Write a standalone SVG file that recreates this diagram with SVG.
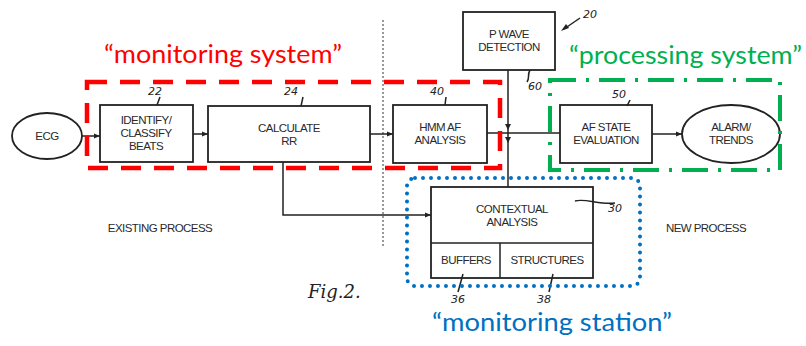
<svg xmlns="http://www.w3.org/2000/svg" width="806" height="346" viewBox="0 0 806 346">
<defs>
<style>
.box{fill:#fff;stroke:#222;stroke-width:1.8}
.ln{fill:none;stroke:#222;stroke-width:1.5}
.t{font-family:"Liberation Sans",Arial,sans-serif;font-size:11.5px;fill:#2a2a2a;text-anchor:middle;letter-spacing:-0.55px}
.num{font-family:"DejaVu Sans",sans-serif;font-style:italic;font-size:11px;fill:#222}
.lbl{font-family:"Lato","Open Sans",sans-serif;font-size:25px}
</style>
<marker id="arr" viewBox="0 0 10 10" refX="10" refY="5" markerWidth="6" markerHeight="6" orient="auto" markerUnits="userSpaceOnUse">
<path d="M0,1 L10,5 L0,9 Z" fill="#222"/>
</marker>
</defs>
<rect width="806" height="346" fill="#fff"/>

<!-- separator -->
<line x1="383" y1="20" x2="383" y2="247" stroke="#555" stroke-width="1.2" stroke-dasharray="2 2"/>

<g id="connectors">
<line class="ln" x1="82" y1="136" x2="100" y2="136" marker-end="url(#arr)"/>
<line class="ln" x1="193" y1="134" x2="208" y2="134" marker-end="url(#arr)"/>
<line class="ln" x1="370" y1="134" x2="393" y2="134" marker-end="url(#arr)"/>
<line class="ln" x1="487" y1="133" x2="560" y2="133"/>
<line class="ln" x1="652" y1="134" x2="682" y2="134" marker-end="url(#arr)"/>
<line class="ln" x1="508" y1="70" x2="508" y2="187"/>
<path d="M505,124 L511,124 L508,130 Z" fill="#222"/>
<path d="M505,137 L511,137 L508,143 Z" fill="#222"/>
<polyline class="ln" points="283,162 283,215 431,215" marker-end="url(#arr)"/>
<line class="ln" x1="564" y1="29" x2="580" y2="18"/>
<path d="M561,31 L566,24 L569,28 Z" fill="#222"/>
</g>

<g id="ecg">
<ellipse class="box" cx="47" cy="136" rx="35" ry="23"/>
<text class="t" x="47" y="140">ECG</text>
</g>
<g id="identify">
<rect class="box" x="100" y="105" width="93" height="57"/>
<text class="t" x="146" y="124">IDENTIFY/</text>
<text class="t" x="146" y="137">CLASSIFY</text>
<text class="t" x="146" y="150">BEATS</text>
<text class="num" x="148" y="95">22</text>
<path class="ln" d="M160,97 L157,105"/>
</g>
<g id="calculate">
<rect class="box" x="208" y="106" width="162" height="56"/>
<text class="t" x="289" y="132">CALCULATE</text>
<text class="t" x="289" y="145">RR</text>
<text class="num" x="284" y="95">24</text>
<path class="ln" d="M303,97 L301,106"/>
</g>
<g id="hmm">
<rect class="box" x="393" y="105" width="94" height="58"/>
<text class="t" x="440" y="131">HMM AF</text>
<text class="t" x="440" y="144">ANALYSIS</text>
<text class="num" x="430" y="95">40</text>
<path class="ln" d="M446,97 L445,105"/>
</g>
<g id="pwave">
<rect class="box" x="463" y="12" width="92" height="58"/>
<text class="t" x="509" y="38">P WAVE</text>
<text class="t" x="509" y="51">DETECTION</text>
<text class="num" x="583" y="18">20</text>
<text class="num" x="528" y="90">60</text>
<path class="ln" d="M530,70 C527,75 530,78 527,82"/>
</g>
<g id="afstate">
<rect class="box" x="560" y="105" width="92" height="58"/>
<text class="t" x="606" y="131">AF STATE</text>
<text class="t" x="606" y="144">EVALUATION</text>
<text class="num" x="612" y="98">50</text>
<path class="ln" d="M630,100 L627,106"/>
</g>
<g id="alarm">
<ellipse class="box" cx="731" cy="134" rx="49" ry="29"/>
<text class="t" x="731" y="131">ALARM/</text>
<text class="t" x="731" y="144">TRENDS</text>
</g>
<g id="contextual">
<rect class="box" x="431" y="187" width="162" height="91"/>
<line class="ln" x1="431" y1="243" x2="593" y2="243"/>
<line class="ln" x1="500" y1="243" x2="500" y2="278"/>
<text class="t" x="512" y="213">CONTEXTUAL</text>
<text class="t" x="512" y="226">ANALYSIS</text>
<text class="t" x="466" y="264">BUFFERS</text>
<text class="t" x="547" y="264">STRUCTURES</text>
<path class="ln" d="M575,201 C585,198 600,205 615,203"/>
<text class="num" x="608" y="212">30</text>
<path class="ln" d="M463,274 L458,292"/>
<text class="num" x="451" y="303">36</text>
<path class="ln" d="M553,274 L549,292"/>
<text class="num" x="537" y="303">38</text>
</g>

<text x="308" y="298" font-family="DejaVu Serif,serif" font-style="italic" font-size="18" fill="#222">Fig.2.</text>

<g id="groups">
<rect x="87" y="82" width="413" height="86" fill="none" stroke="#ff0000" stroke-width="4.5" stroke-dasharray="20 13"/>
<rect x="550" y="80" width="230" height="90" fill="none" stroke="#00b050" stroke-width="4" stroke-dasharray="26 10 3 10"/>
<rect x="407" y="178" width="233" height="108" rx="8" fill="none" stroke="#0070c0" stroke-width="4" stroke-linecap="round" stroke-dasharray="0 8"/>
</g>

<text class="lbl" x="104" y="63" fill="#ff0000" textLength="238" lengthAdjust="spacingAndGlyphs">“monitoring system”</text>
<text class="lbl" x="569" y="64" fill="#00b050" textLength="233" lengthAdjust="spacingAndGlyphs">“processing system”</text>
<text class="lbl" x="432" y="331" fill="#0070c0" textLength="240" lengthAdjust="spacingAndGlyphs">“monitoring station”</text>

<text class="t" x="160" y="232">EXISTING PROCESS</text>
<text class="t" x="706" y="232">NEW PROCESS</text>
</svg>
